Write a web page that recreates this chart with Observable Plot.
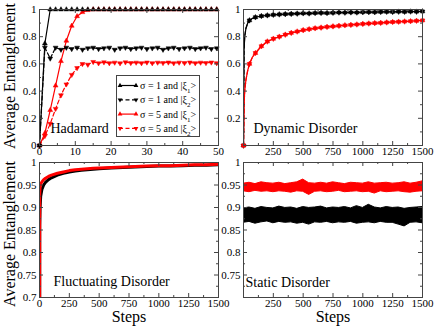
<!DOCTYPE html>
<html><head><meta charset="utf-8">
<script src="https://cdn.jsdelivr.net/npm/d3@7"></script>
<script src="https://cdn.jsdelivr.net/npm/@observablehq/plot@0.6"></script>
<style>
html,body{margin:0;padding:0;background:#fff;}
#chart{position:relative;width:436px;height:329px;overflow:hidden;font-family:"Liberation Serif",serif;}
#chart svg{position:absolute;left:0;top:0;}
#chart svg text{font-family:"Liberation Serif",serif !important;}
.ytitle{position:absolute;font-size:16px;line-height:1;white-space:nowrap;color:#000;transform:translate(-50%,-50%) rotate(-90deg);}
</style></head><body><div id="chart"></div>
<script>
// ---------- data ----------
const seriesLabels = ["σ = 1 and |ξ|1", "σ = 1 and |ξ|2", "σ = 5 and |ξ|1", "σ = 5 and |ξ|2"];
const panelTitles = ["Hadamard", "Dynamic Disorder", "Fluctuating Disorder", "Static Disorder"];
const yTitle = "Average Entanglement";
const xTitle = "Steps";

const hadSteps = [0,1.5,3,4.5,6,7.5,9,10.5,12,13.5,15,16.5,18,19.5,21,22.5,24,25.5,27,28.5,30,31.5,33,34.5,36,37.5,39,40.5,42,43.5,45,46.5,48,49.5];
const hadS1Xi1 = [0,0.75,1,1,1,1,1,1,1,1, 1,1,1,1,1,1,1,1,1,1, 1,1,1,1,1,1,1,1,1,1, 1,1,1,1];
const hadS1Xi2 = [0,0.72,0.64,0.72,0.705,0.72,0.71,0.72,0.705,0.715, 0.72,0.71,0.715,0.72,0.705,0.715,0.72,0.71,0.715,0.72, 0.71,0.715,0.72,0.705,0.715,0.72,0.71,0.715,0.72,0.71, 0.715,0.72,0.71,0.715];
const hadS5Xi1 = [0,0.09,0.26,0.44,0.62,0.77,0.88,0.95,0.98,0.995, 1,1,1,1,1,1,1,1,1,1, 1,1,1,1,1,1,1,1,1,1, 1,1,1,1];
const hadS5Xi2 = [0,0.07,0.16,0.27,0.37,0.45,0.52,0.57,0.6,0.595, 0.615,0.605,0.612,0.606,0.61,0.605,0.612,0.607,0.61,0.606, 0.611,0.606,0.61,0.607,0.611,0.605,0.61,0.607,0.611,0.606, 0.61,0.607,0.611,0.606];

const dynSteps = [0,5,10,20,35,50,75,100,150,200, 250,300,350,400,450,500,550,600,650,700, 750,800,850,900,950,1000,1050,1100,1150,1200, 1250,1300,1350,1400,1450,1500];
const dynS1 = [0,0.7,0.8,0.86,0.9,0.92,0.935,0.943,0.952,0.957, 0.961,0.964,0.966,0.968,0.97,0.972,0.971,0.974,0.975,0.974, 0.976,0.978,0.977,0.979,0.978,0.98,0.981,0.98,0.982,0.983, 0.982,0.984,0.983,0.985,0.984,0.986];
const dynS5 = [0,0.3,0.4,0.48,0.55,0.6,0.65,0.68,0.73,0.765, 0.785,0.8,0.815,0.828,0.838,0.848,0.855,0.862,0.867,0.872, 0.876,0.88,0.884,0.887,0.89,0.894,0.897,0.9,0.902,0.905, 0.908,0.91,0.912,0.914,0.917,0.92];

const flucSteps = [0,2,5,10,20,35,50,75,100,150, 200,250,300,350,400,450,500,600,700,800, 900,1000,1100,1200,1300,1400,1500];
const flucS5 = [0,0.93,0.945,0.952,0.957,0.962,0.965,0.969,0.972,0.976, 0.979,0.982,0.984,0.985,0.986,0.987,0.988,0.989,0.99,0.991, 0.992,0.993,0.993,0.994,0.995,0.995,0.996];
const flucS1 = [0,0.86,0.9,0.925,0.94,0.95,0.956,0.962,0.966,0.972, 0.976,0.979,0.981,0.983,0.984,0.985,0.986,0.988,0.989,0.99, 0.991,0.992,0.992,0.993,0.994,0.994,0.995];

const staticSteps = [0,50,100,150,200,250,300,350,400,450, 500,550,600,650,700,750,800,850,900,950, 1000,1050,1100,1150,1200,1250,1300,1350,1400,1450, 1500];
const staticS5Hi = [0.953,0.955,0.952,0.956,0.954,0.953,0.955,0.952,0.954,0.956, 0.962,0.954,0.953,0.955,0.953,0.956,0.954,0.952,0.955,0.954, 0.953,0.956,0.953,0.954,0.955,0.953,0.954,0.956,0.953,0.955, 0.958];
const staticS5Lo = [0.936,0.934,0.937,0.935,0.936,0.934,0.936,0.935,0.933,0.936, 0.935,0.928,0.935,0.936,0.934,0.935,0.937,0.934,0.935,0.936, 0.934,0.935,0.931,0.936,0.934,0.935,0.936,0.934,0.933,0.935, 0.936];
const staticS1Hi = [0.898,0.9,0.897,0.901,0.899,0.898,0.902,0.899,0.9,0.897, 0.901,0.899,0.9,0.902,0.898,0.9,0.899,0.901,0.898,0.903, 0.899,0.906,0.9,0.898,0.901,0.899,0.9,0.897,0.899,0.9, 0.901];
const staticS1Lo = [0.866,0.868,0.864,0.867,0.869,0.865,0.868,0.866,0.867,0.864, 0.866,0.862,0.867,0.866,0.868,0.865,0.867,0.866,0.868,0.864, 0.866,0.867,0.865,0.868,0.866,0.866,0.862,0.858,0.866,0.867, 0.865];

// tick values / labels
const hadXTicks = [0,10,20,30,40,50];
const hadXMinor = [5,15,25,35,45];
const stepXTicks = [0,250,500,750,1000,1250,1500];
const stepXMinor = [125,375,625,875,1125,1375];
const topYTicks = [0,0.2,0.4,0.6,0.8,1];
const topYMinor = [0.1,0.3,0.5,0.7,0.9];
const botYTicks = [0.7,0.75,0.8,0.85,0.9,0.95,1];
const botYMinor = [0.725,0.775,0.825,0.875,0.925,0.975];
const tlXLabels = [0,10,20,30,40,50];
const tlYLabels = [0,0.2,0.4,0.6,0.8,1];
const trXLabels = [250,500,750,1000,1250,1500];
const trYLabels = [0.2,0.4,0.6,0.8,1];
const blXLabels = [0,250,500,750,1000,1250,1500];
const blYLabels = [0.7,0.75,0.8,0.85,0.9,0.95,1];
const brXLabels = [250,500,750,1000,1250,1500];
const brYLabels = [0.75,0.8,0.85,0.9,0.95,1];

// ---------- helpers ----------
const BLACK = "#000000", RED = "#ff0000", FRAME = "#444444";
const W = 436, H = 329;
const sqrt3 = Math.sqrt(3);
const triDown = {draw(ctx, size){ const y = -Math.sqrt(size/(sqrt3*3)); ctx.moveTo(0,-y*2); ctx.lineTo(-sqrt3*y, y); ctx.lineTo(sqrt3*y, y); ctx.closePath(); }};
const rows = (xs, ys) => xs.map((t,i) => ({t, v: ys[i]}));
const bandRows = (xs, lo, hi) => xs.map((t,i) => ({t, lo: lo[i], hi: hi[i]}));
const fmt = d => String(d);

function panel({box, xDomain, yDomain, xTicks, xMinor, yTicks, yMinor, xLabels, yLabels, marks, title, tdx, tdy, withX}) {
  const [x0,x1,y0,y1] = box;
  const fw = x1-x0, fh = y1-y0;
  const extra = [];
  if (withX) extra.push(Plot.text([xTitle], {frameAnchor:"bottom", dy:24, fontSize:16, fill:"#000"}));
  return Plot.plot({
    width: W, height: H,
    marginLeft: x0, marginRight: W-x1, marginTop: y0, marginBottom: H-y1,
    x: {domain: xDomain},
    y: {domain: yDomain},
    style: {fontFamily: "'Liberation Serif', serif", fontSize: "11px", background: "transparent", overflow: "visible", color: "#000"},
    marks: [
      ...marks,
      Plot.tickX(xTicks, {x: d=>d, insetTop: fh-4, stroke: FRAME}),
      Plot.tickX(xTicks, {x: d=>d, insetBottom: fh-4, stroke: FRAME}),
      Plot.tickX(xMinor, {x: d=>d, insetTop: fh-2, stroke: FRAME}),
      Plot.tickX(xMinor, {x: d=>d, insetBottom: fh-2, stroke: FRAME}),
      Plot.tickY(yTicks, {y: d=>d, insetRight: fw-4, stroke: FRAME}),
      Plot.tickY(yTicks, {y: d=>d, insetLeft: fw-4, stroke: FRAME}),
      Plot.tickY(yMinor, {y: d=>d, insetRight: fw-2, stroke: FRAME}),
      Plot.tickY(yMinor, {y: d=>d, insetLeft: fw-2, stroke: FRAME}),
      Plot.frame({stroke: FRAME}),
      Plot.axisX(xLabels, {tickSize: 0, tickPadding: 2, tickFormat: fmt, label: null, fill: "#000"}),
      Plot.axisY(yLabels, {tickSize: 0, tickPadding: 3, tickFormat: fmt, label: null, fill: "#000"}),
      Plot.text([title], {frameAnchor:"bottom-left", textAnchor:"start", dx: tdx, dy: tdy, fontSize: 14, fill:"#000"}),
      ...extra
    ]
  });
}

function seriesMarks(data, color, dashed, down, markFilter) {
  const m = [Plot.line(data, {x:"t", y:"v", stroke: color, strokeWidth: 1.2, strokeDasharray: dashed ? "4,2.5" : null, clip: true})];
  m.push(Plot.dot(markFilter ? data.filter(markFilter) : data, {x:"t", y:"v", symbol: down ? triDown : "triangle", r: 1.8, fill: color, stroke: color, strokeWidth: 0.5}));
  return m;
}

const chart = document.getElementById("chart");

// Top-left: Hadamard
chart.append(panel({
  box: [39, 218, 9, 145], xDomain: [0,50], yDomain: [0,1],
  xTicks: hadXTicks, xMinor: hadXMinor, yTicks: topYTicks, yMinor: topYMinor,
  xLabels: tlXLabels, yLabels: tlYLabels,
  title: panelTitles[0], tdx: 11, tdy: -13,
  marks: [
    ...seriesMarks(rows(hadSteps, hadS5Xi2), RED, true, true),
    ...seriesMarks(rows(hadSteps, hadS5Xi1), RED, false, false),
    ...seriesMarks(rows(hadSteps, hadS1Xi2), BLACK, true, true),
    ...seriesMarks(rows(hadSteps, hadS1Xi1), BLACK, false, false)
  ]
}));

// Top-right: Dynamic disorder
const every50 = d => d.t % 50 === 0;
chart.append(panel({
  box: [243, 422, 9, 145], xDomain: [0,1500], yDomain: [0,1],
  xTicks: stepXTicks, xMinor: stepXMinor, yTicks: topYTicks, yMinor: topYMinor,
  xLabels: trXLabels, yLabels: trYLabels,
  title: panelTitles[1], tdx: 10, tdy: -13,
  marks: [
    ...seriesMarks(rows(dynSteps, dynS1), BLACK, false, false, every50),
    ...seriesMarks(rows(dynSteps, dynS1), BLACK, true, true, every50),
    ...seriesMarks(rows(dynSteps, dynS5), RED, false, false, every50),
    ...seriesMarks(rows(dynSteps, dynS5), RED, true, true, every50)
  ]
}));

// Bottom-left: Fluctuating disorder
chart.append(panel({
  box: [39, 218, 162, 297], xDomain: [0,1500], yDomain: [0.7,1],
  xTicks: stepXTicks, xMinor: stepXMinor, yTicks: botYTicks, yMinor: botYMinor,
  xLabels: blXLabels, yLabels: blYLabels,
  title: panelTitles[2], tdx: 14, tdy: -12, withX: true,
  marks: [
    Plot.line(rows(flucSteps, flucS1), {x:"t", y:"v", stroke: BLACK, strokeWidth: 3, clip: true}),
    Plot.line(rows(flucSteps, flucS5), {x:"t", y:"v", stroke: RED, strokeWidth: 3, clip: true})
  ]
}));

// Bottom-right: Static disorder
chart.append(panel({
  box: [243, 422, 162, 297], xDomain: [0,1500], yDomain: [0.7,1],
  xTicks: stepXTicks, xMinor: stepXMinor, yTicks: botYTicks, yMinor: botYMinor,
  xLabels: brXLabels, yLabels: brYLabels,
  title: panelTitles[3], tdx: 2, tdy: -11, withX: true,
  marks: [
    Plot.areaY(bandRows(staticSteps, staticS1Lo, staticS1Hi), {x:"t", y1:"lo", y2:"hi", fill: BLACK, stroke: BLACK, strokeWidth: 1, clip: true}),
    Plot.areaY(bandRows(staticSteps, staticS5Lo, staticS5Hi), {x:"t", y1:"lo", y2:"hi", fill: RED, stroke: RED, strokeWidth: 1, clip: true})
  ]
}));

// Y titles (left column)
[[9.5, 76], [9.5, 234]].forEach(([x, y]) => {
  const d = document.createElement("div");
  d.className = "ytitle";
  d.style.left = x + "px";
  d.style.top = y + "px";
  d.textContent = yTitle;
  chart.append(d);
});

// Legend (top-left panel)
const legendStyles = [
  {color: BLACK, dashed: false, down: false},
  {color: BLACK, dashed: true, down: true},
  {color: RED, dashed: false, down: false},
  {color: RED, dashed: true, down: true}
];
const lg = d3.select(chart).append("svg")
  .attr("width", 84).attr("height", 62)
  .style("left", "116px").style("top", "75px")
  .style("font-family", "'Liberation Serif', serif").style("font-size", "10px");
lg.append("rect").attr("x", 0.5).attr("y", 0.5).attr("width", 83).attr("height", 61)
  .attr("fill", "#fff").attr("stroke", FRAME);
seriesLabels.forEach((lab, i) => {
  const s = legendStyles[i];
  const y = 10.5 + i * 14.3;
  const g = lg.append("g").attr("transform", `translate(0,${y})`);
  g.append("line").attr("x1", 3).attr("x2", 21).attr("y1", 0).attr("y2", 0)
    .attr("stroke", s.color).attr("stroke-width", 1.2).attr("stroke-dasharray", s.dashed ? "4,2.5" : null);
  const sym = d3.symbol().type(s.down ? triDown : d3.symbolTriangle).size(10)();
  [4, 20].forEach(x => g.append("path").attr("d", sym).attr("transform", `translate(${x},0)`).attr("fill", s.color));
  const [pre, sub] = lab.split("|ξ|");
  const t = g.append("text").attr("x", 24).attr("y", 3.5).attr("fill", "#000");
  t.append("tspan").text(pre + "|ξ");
  t.append("tspan").attr("baseline-shift", "sub").attr("font-size", "7px").text(sub);
  t.append("tspan").text(">");
});
</script></body></html>
